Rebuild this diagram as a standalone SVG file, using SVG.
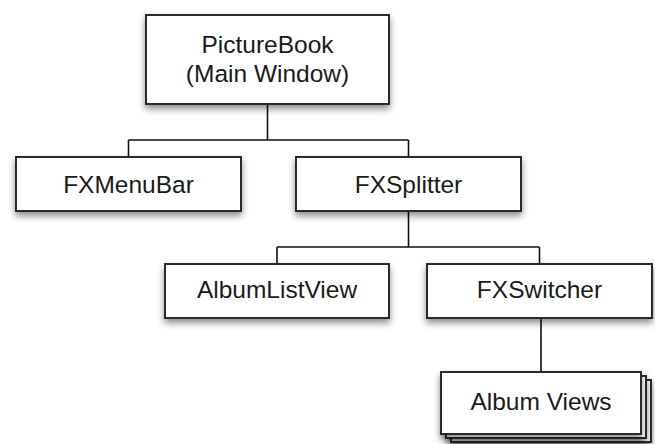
<svg xmlns="http://www.w3.org/2000/svg" width="655" height="444" viewBox="0 0 655 444">
<defs>
<filter id="sh" x="-20%" y="-30%" width="140%" height="170%">
<feDropShadow dx="0" dy="4" stdDeviation="3.5" flood-color="#000" flood-opacity="0.45"/>
</filter>
</defs>
<style>
.box{fill:#fff;stroke:#2a2a2a;stroke-width:2;}
.lbl{font-family:"Liberation Sans",Arial,sans-serif;font-size:24.5px;fill:#1a1a1a;text-anchor:middle;}
.con{fill:none;stroke:#111;stroke-width:1.6;}
</style>
<rect width="655" height="444" fill="#fff"/>
<g id="connectors">
<path class="con" d="M267.5,104 V140 M128.5,140 H408.5 M128.5,140 V157 M408.5,140 V157"/>
<path class="con" d="M408.5,211 V247 M277,247 H539.5 M277,247 V264 M539.5,247 V264"/>
<path class="con" d="M541,318 V372"/>
</g>
<g id="picturebook">
<rect class="box" x="146" y="15" width="243" height="89" filter="url(#sh)"/>
<text class="lbl" x="267.5" y="53">PictureBook</text>
<text class="lbl" x="267.5" y="82">(Main Window)</text>
</g>
<g id="fxmenubar">
<rect class="box" x="16" y="157" width="225" height="54" filter="url(#sh)"/>
<text class="lbl" x="128.5" y="193">FXMenuBar</text>
</g>
<g id="fxsplitter">
<rect class="box" x="296" y="157" width="225" height="54" filter="url(#sh)"/>
<text class="lbl" x="408.5" y="193">FXSplitter</text>
</g>
<g id="albumlistview">
<rect class="box" x="165" y="264" width="224" height="54" filter="url(#sh)"/>
<text class="lbl" x="277" y="298">AlbumListView</text>
</g>
<g id="fxswitcher">
<rect class="box" x="427" y="264" width="225" height="54" filter="url(#sh)"/>
<text class="lbl" x="539.5" y="298">FXSwitcher</text>
</g>
<g id="albumviews">
<rect class="box" x="451" y="380" width="200" height="62" filter="url(#sh)"/>
<rect class="box" x="446" y="376" width="200" height="62" filter="url(#sh)"/>
<rect class="box" x="441" y="372" width="200" height="62" filter="url(#sh)"/>
<text class="lbl" x="541" y="410">Album Views</text>
</g>
</svg>
